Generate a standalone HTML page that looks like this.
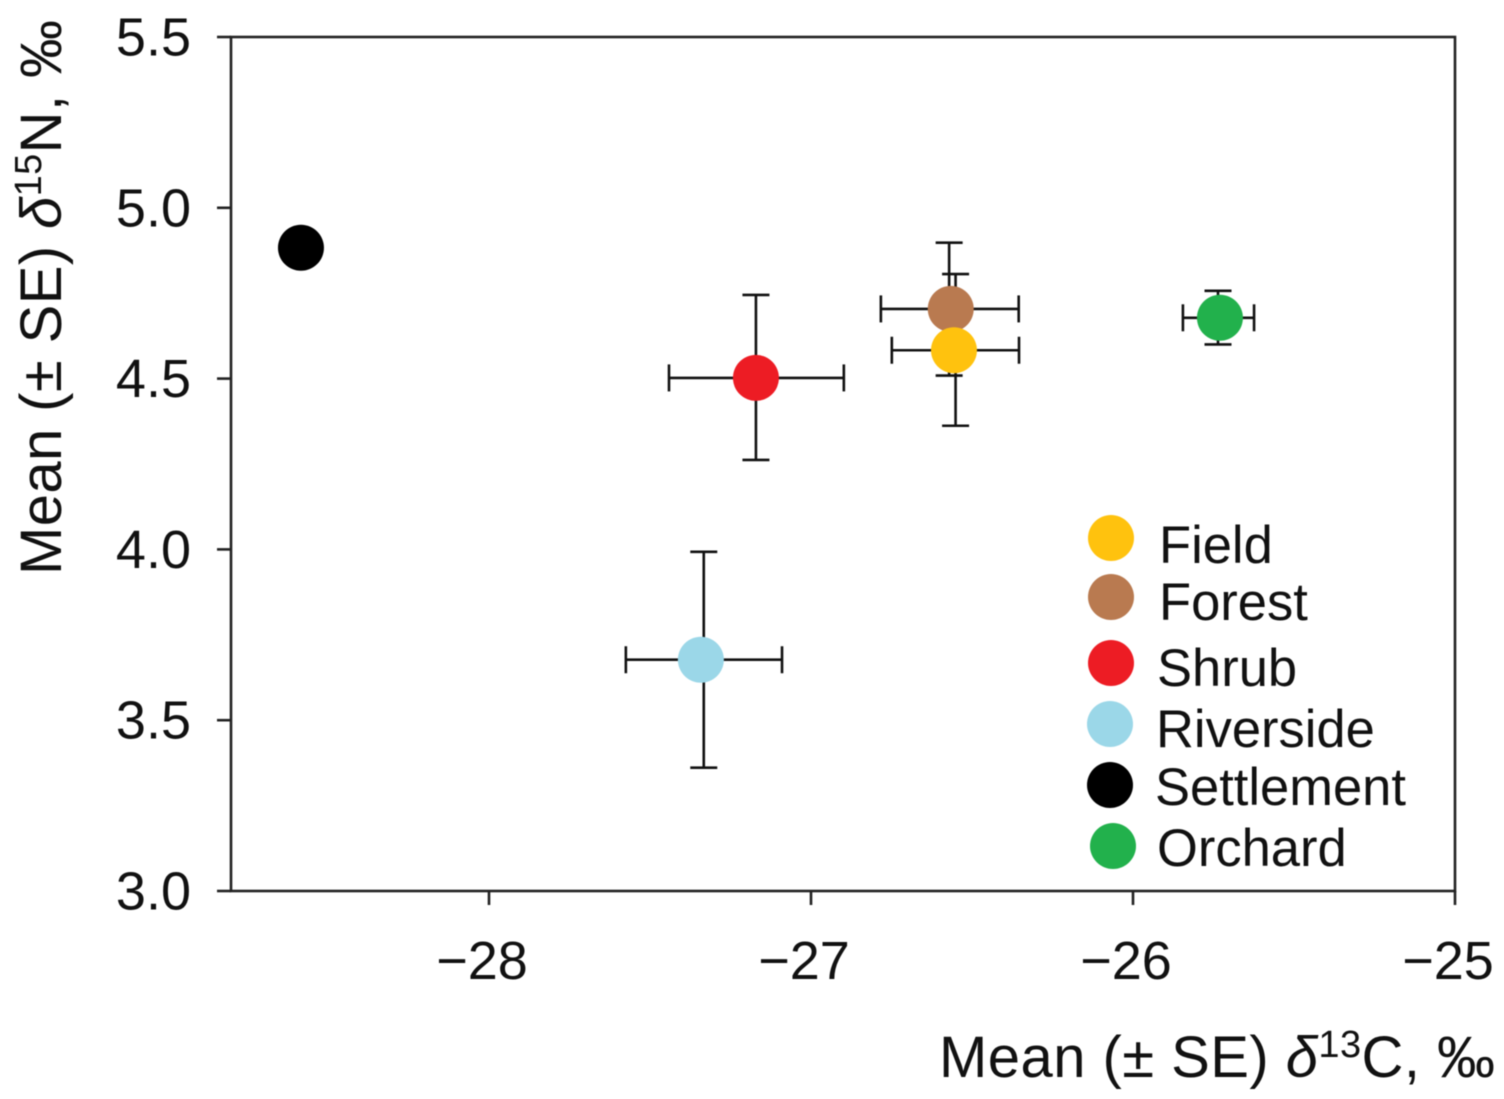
<!DOCTYPE html>
<html>
<head>
<meta charset="utf-8">
<title>Mean d13C vs d15N by habitat</title>
<style>
html,body{margin:0;padding:0;background:#fff;width:1504px;height:1099px;overflow:hidden}
svg{display:block;font-family:"Liberation Sans",Arial,sans-serif;fill:#111;filter:blur(0.5px)}
text{font-size:54px}
#legend text{font-size:52.5px}
text.axis-title{font-size:58px}
</style>
</head>
<body>
<svg id="chart" width="1504" height="1099" viewBox="0 0 1504 1099" xmlns="http://www.w3.org/2000/svg">
<text class="axis-title" transform="translate(61,575) rotate(-90)" textLength="555">Mean (± SE) <tspan font-style="italic">δ</tspan><tspan style="font-size:38px" dy="-20">15</tspan><tspan dy="20">N, ‰</tspan></text>
<text class="axis-title" x="939" y="1077" textLength="556">Mean (± SE) <tspan font-style="italic">δ</tspan><tspan style="font-size:38px" dy="-20">13</tspan><tspan dy="20">C, ‰</tspan></text>
<g id="legend">
<g><circle cx="1111" cy="538" r="23" fill="#ffc20e"/><text x="1159" y="563">Field</text></g>
<g><circle cx="1111" cy="597" r="23" fill="#b97a50"/><text x="1159" y="620">Forest</text></g>
<g><circle cx="1111" cy="663" r="23" fill="#ed1c24"/><text x="1157" y="686">Shrub</text></g>
<g><circle cx="1110" cy="724" r="23" fill="#9bd7e8"/><text x="1156" y="747">Riverside</text></g>
<g><circle cx="1110" cy="785" r="23" fill="#000"/><text x="1155" y="805">Settlement</text></g>
<g><circle cx="1113" cy="846" r="23" fill="#22b14c"/><text x="1157" y="866">Orchard</text></g>
</g>
</svg>
<script>
const categories = ['Field', 'Forest', 'Shrub', 'Riverside', 'Settlement', 'Orchard'];
const meanC = [-26.556, -26.566, -27.171, -27.342, -28.584, -25.730];
const meanN = [4.583, 4.704, 4.502, 3.677, 4.883, 4.678];
const errCLow = [0.193, 0.217, 0.270, 0.233, 0, 0.115];
const errCHigh = [0.202, 0.211, 0.273, 0.252, 0, 0.106];
const errNLow = [0.221, 0.195, 0.240, 0.316, 0, 0.078];
const errNHigh = [0.223, 0.194, 0.243, 0.316, 0, 0.079];
const whiskerShiftC = [0.005, -0.005, 0, 0.009, 0, -0.006];
const colors = ['#ffc20e', '#b97a50', '#ed1c24', '#9bd7e8', '#000000', '#22b14c'];
const xTicks = [-28, -27, -26, -25];
const yTicks = [3.0, 3.5, 4.0, 4.5, 5.0, 5.5];
const xDomain = [-28.8, -25];
const yDomain = [3.0, 5.5];
const drawOrder = [3, 4, 2, 5, 1, 0];

const NS = 'http://www.w3.org/2000/svg';
const svg = document.getElementById('chart');
const plot = {left: 231, right: 1455, top: 37, bottom: 891};
const sx = v => 489 + (v + 28) * 322;
const sy = v => plot.bottom - (v - yDomain[0]) * (plot.bottom - plot.top) / (yDomain[1] - yDomain[0]);

function line(parent, x1, y1, x2, y2, w, color) {
  const el = document.createElementNS(NS, 'line');
  el.setAttribute('x1', x1);
  el.setAttribute('y1', y1);
  el.setAttribute('x2', x2);
  el.setAttribute('y2', y2);
  el.setAttribute('stroke', color || '#111');
  el.setAttribute('stroke-width', w);
  parent.appendChild(el);
  return el;
}

const axes = document.createElementNS(NS, 'g');


svg.insertBefore(axes, svg.firstChild);

const frame = document.createElementNS(NS, 'rect');
frame.setAttribute('x', plot.left);
frame.setAttribute('y', plot.top);
frame.setAttribute('width', plot.right - plot.left);
frame.setAttribute('height', plot.bottom - plot.top);
frame.setAttribute('fill', 'none');
frame.setAttribute('stroke', '#222');
frame.setAttribute('stroke-width', 2.6);


axes.appendChild(frame);

xTicks.forEach(v => {
  const tick = line(axes, sx(v), plot.bottom, sx(v), plot.bottom + 14, 2.6, '#222');
  
  
  const t = document.createElementNS(NS, 'text');
  t.setAttribute('x', sx(v) - 7);
  t.setAttribute('y', 979);
  t.setAttribute('text-anchor', 'middle');
  t.textContent = '\u2212' + Math.abs(v);
  
  
  axes.appendChild(t);
});

yTicks.forEach(v => {
  const tick = line(axes, plot.left - 14, sy(v), plot.left, sy(v), 2.6, '#222');
  
  
  const t = document.createElementNS(NS, 'text');
  t.setAttribute('x', 191);
  t.setAttribute('y', sy(v) + 18.5);
  t.setAttribute('text-anchor', 'end');
  t.textContent = v.toFixed(1);
  
  
  axes.appendChild(t);
});

const capHalf = 13.5;
const errors = document.createElementNS(NS, 'g');


svg.appendChild(errors);
const points = document.createElementNS(NS, 'g');


svg.appendChild(points);

drawOrder.forEach(i => {
  const cx = sx(meanC[i]);
  const cy = sy(meanN[i]);
  if (errCLow[i] > 0 || errNLow[i] > 0) {
    const g = document.createElementNS(NS, 'g');
    
    
    errors.appendChild(g);
    const xl = sx(meanC[i] - errCLow[i]);
    const xh = sx(meanC[i] + errCHigh[i]);
    const vx = sx(meanC[i] + whiskerShiftC[i]);
    const yl = sy(meanN[i] - errNLow[i]);
    const yh = sy(meanN[i] + errNHigh[i]);
    line(g, xl, cy, xh, cy, 2.6);
    line(g, xl, cy - capHalf, xl, cy + capHalf, 2.6);
    line(g, xh, cy - capHalf, xh, cy + capHalf, 2.6);
    line(g, vx, yl, vx, yh, 2.6);
    line(g, vx - capHalf, yl, vx + capHalf, yl, 2.6);
    line(g, vx - capHalf, yh, vx + capHalf, yh, 2.6);
  }
  const c = document.createElementNS(NS, 'circle');
  c.setAttribute('cx', cx);
  c.setAttribute('cy', cy);
  c.setAttribute('r', 23);
  c.setAttribute('fill', colors[i]);
  
  
  points.appendChild(c);
});
</script>
</body>
</html>
